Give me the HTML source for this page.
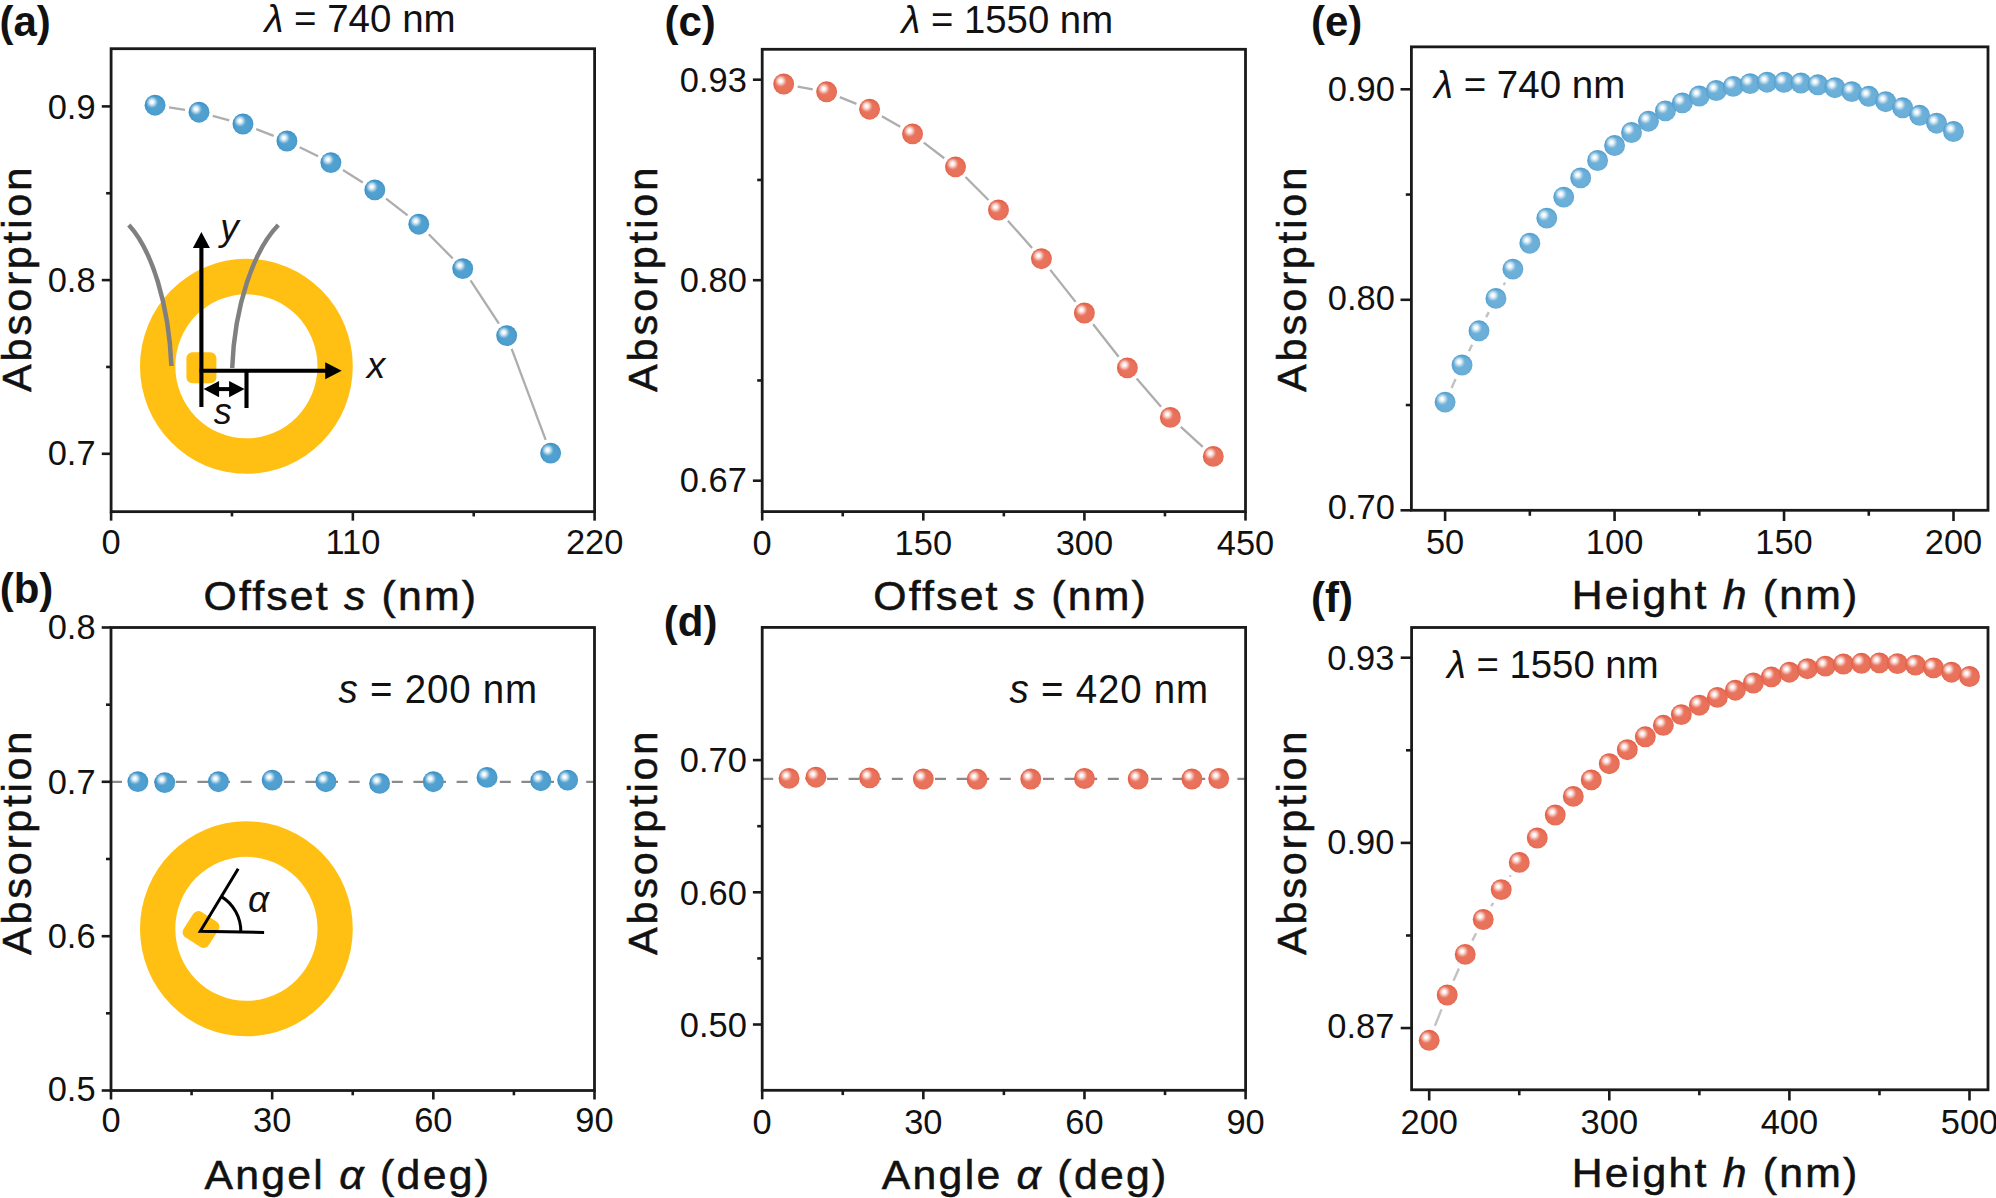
<!DOCTYPE html>
<html lang="en"><head><meta charset="utf-8"><title>Absorption figure</title>
<style>html,body{margin:0;padding:0;background:#fff;}svg{display:block;}</style></head>
<body>
<svg width="1996" height="1198" viewBox="0 0 1996 1198" font-family="'Liberation Sans', sans-serif" fill="#111">
<defs>
<radialGradient id="gb" cx="0.54" cy="0.56" r="0.54"><stop offset="0" stop-color="#53a2d1"/><stop offset="0.72" stop-color="#4d9ecf"/><stop offset="1" stop-color="#3a90c5"/></radialGradient>
<radialGradient id="gl" cx="0.54" cy="0.56" r="0.54"><stop offset="0" stop-color="#6fb1d9"/><stop offset="0.72" stop-color="#6aaed8"/><stop offset="1" stop-color="#509fcf"/></radialGradient>
<radialGradient id="gr" cx="0.54" cy="0.56" r="0.54"><stop offset="0" stop-color="#e9755f"/><stop offset="0.72" stop-color="#e87059"/><stop offset="1" stop-color="#e25f47"/></radialGradient>
<radialGradient id="hl" cx="0.5" cy="0.5" r="0.5"><stop offset="0" stop-color="#fff" stop-opacity="1"/><stop offset="0.22" stop-color="#fff" stop-opacity="0.95"/><stop offset="0.55" stop-color="#fff" stop-opacity="0.55"/><stop offset="0.8" stop-color="#fff" stop-opacity="0.18"/><stop offset="1" stop-color="#fff" stop-opacity="0"/></radialGradient>
</defs>
<rect width="1996" height="1198" fill="#fff"/>
<path d="M140.00,366.30 a106.4,107.5 0 1 0 212.80,0 a106.4,107.5 0 1 0 -212.80,0 z M175.30,366.30 a71.1,72.0 0 1 0 142.20,0 a71.1,72.0 0 1 0 -142.20,0 z " fill="#ffc013" fill-rule="evenodd"/>
<rect x="186.4" y="352.3" width="30" height="31" rx="6" fill="#ffc013"/>
<path d="M128.8,225 C152,250 169,305 171.4,366" fill="none" stroke="#808080" stroke-width="4.5"/>
<path d="M278.3,225 C254,250 234.5,305 232.2,368" fill="none" stroke="#808080" stroke-width="4.5"/>
<path d="M201.4,407 V246 M199.2,370.8 H326 M246.5,370.8 V408" fill="none" stroke="#000" stroke-width="4.1"/>
<path d="M201.4,232 l8.5,16 h-17 z M341.7,370.8 l-16.5,8.5 v-17 z" fill="#000"/>
<path d="M214,389.1 H234" stroke="#000" stroke-width="4"/>
<path d="M203.6,389.1 l15.5,-8.2 v16.4 z M244.6,389.1 l-15.5,-8.2 v16.4 z" fill="#000"/>
<text x="229.50" y="240.00" font-size="37" text-anchor="middle" font-weight="normal" font-style="italic">y</text>
<text x="376.00" y="378.30" font-size="37" text-anchor="middle" font-weight="normal" font-style="italic">x</text>
<text x="222.70" y="423.50" font-size="36" text-anchor="middle" font-weight="normal" font-style="italic">s</text>
<line x1="169.08" y1="107.43" x2="184.99" y2="109.97" stroke="#adadad" stroke-width="2.3"/>
<line x1="212.72" y1="115.88" x2="229.25" y2="120.32" stroke="#adadad" stroke-width="2.3"/>
<line x1="256.21" y1="129.12" x2="273.67" y2="135.88" stroke="#adadad" stroke-width="2.3"/>
<line x1="299.66" y1="147.26" x2="318.13" y2="156.34" stroke="#adadad" stroke-width="2.3"/>
<line x1="342.94" y1="170.09" x2="362.76" y2="182.41" stroke="#adadad" stroke-width="2.3"/>
<line x1="386.02" y1="198.64" x2="407.59" y2="215.46" stroke="#adadad" stroke-width="2.3"/>
<line x1="428.77" y1="234.29" x2="452.75" y2="258.51" stroke="#adadad" stroke-width="2.3"/>
<line x1="470.53" y1="280.47" x2="498.90" y2="323.73" stroke="#adadad" stroke-width="2.3"/>
<line x1="511.67" y1="348.90" x2="545.67" y2="439.80" stroke="#adadad" stroke-width="2.3"/>
<circle cx="155.05" cy="105.20" r="10.45" fill="url(#gb)"/>
<circle cx="152.05" cy="102.10" r="6.3" fill="url(#hl)"/>
<circle cx="199.01" cy="112.20" r="10.45" fill="url(#gb)"/>
<circle cx="196.01" cy="109.10" r="6.3" fill="url(#hl)"/>
<circle cx="242.96" cy="124.00" r="10.45" fill="url(#gb)"/>
<circle cx="239.96" cy="120.90" r="6.3" fill="url(#hl)"/>
<circle cx="286.92" cy="141.00" r="10.45" fill="url(#gb)"/>
<circle cx="283.92" cy="137.90" r="6.3" fill="url(#hl)"/>
<circle cx="330.87" cy="162.60" r="10.45" fill="url(#gb)"/>
<circle cx="327.87" cy="159.50" r="6.3" fill="url(#hl)"/>
<circle cx="374.83" cy="189.90" r="10.45" fill="url(#gb)"/>
<circle cx="371.83" cy="186.80" r="6.3" fill="url(#hl)"/>
<circle cx="418.78" cy="224.20" r="10.45" fill="url(#gb)"/>
<circle cx="415.78" cy="221.10" r="6.3" fill="url(#hl)"/>
<circle cx="462.74" cy="268.60" r="10.45" fill="url(#gb)"/>
<circle cx="459.74" cy="265.50" r="6.3" fill="url(#hl)"/>
<circle cx="506.69" cy="335.60" r="10.45" fill="url(#gb)"/>
<circle cx="503.69" cy="332.50" r="6.3" fill="url(#hl)"/>
<circle cx="550.65" cy="453.10" r="10.45" fill="url(#gb)"/>
<circle cx="547.65" cy="450.00" r="6.3" fill="url(#hl)"/>
<rect x="111.1" y="48.7" width="483.50" height="462.95" fill="none" stroke="#1a1a1a" stroke-width="2.8"/>
<line x1="101.80" y1="106.40" x2="111.1" y2="106.40" stroke="#1a1a1a" stroke-width="2.6"/>
<line x1="101.80" y1="280.10" x2="111.1" y2="280.10" stroke="#1a1a1a" stroke-width="2.6"/>
<line x1="101.80" y1="453.80" x2="111.1" y2="453.80" stroke="#1a1a1a" stroke-width="2.6"/>
<line x1="106.10" y1="193.25" x2="111.1" y2="193.25" stroke="#1a1a1a" stroke-width="2.6"/>
<line x1="106.10" y1="366.95" x2="111.1" y2="366.95" stroke="#1a1a1a" stroke-width="2.6"/>
<line x1="111.10" y1="511.65" x2="111.10" y2="520.65" stroke="#1a1a1a" stroke-width="2.6"/>
<line x1="352.85" y1="511.65" x2="352.85" y2="520.65" stroke="#1a1a1a" stroke-width="2.6"/>
<line x1="594.60" y1="511.65" x2="594.60" y2="520.65" stroke="#1a1a1a" stroke-width="2.6"/>
<line x1="231.97" y1="511.65" x2="231.97" y2="516.45" stroke="#1a1a1a" stroke-width="2.6"/>
<line x1="473.73" y1="511.65" x2="473.73" y2="516.45" stroke="#1a1a1a" stroke-width="2.6"/>
<text transform="translate(95.60,118.70) scale(0.957,1)" font-size="36.0" text-anchor="end" font-weight="normal" >0.9</text>
<text transform="translate(95.60,291.90) scale(0.957,1)" font-size="36.0" text-anchor="end" font-weight="normal" >0.8</text>
<text transform="translate(95.60,465.00) scale(0.957,1)" font-size="36.0" text-anchor="end" font-weight="normal" >0.7</text>
<text transform="translate(111.10,553.80) scale(0.957,1)" font-size="36.0" text-anchor="middle" font-weight="normal" >0</text>
<text transform="translate(352.85,553.80) scale(0.957,1)" font-size="36.0" text-anchor="middle" font-weight="normal" >110</text>
<text transform="translate(594.60,553.80) scale(0.957,1)" font-size="36.0" text-anchor="middle" font-weight="normal" >220</text>
<text x="360.00" y="32.40" font-size="38.5" text-anchor="middle" font-weight="normal" ><tspan font-style="italic">λ</tspan> = 740 nm</text>
<text transform="translate(339.70,610.00) scale(1.03,1)" font-size="41.5" text-anchor="middle" font-weight="normal" textLength="264.56" lengthAdjust="spacing" stroke="#111" stroke-width="0.55">Offset <tspan font-style="italic">s</tspan> (nm)</text>
<text transform="translate(31.20,279.80) rotate(-90)" font-size="41.5" text-anchor="middle" textLength="224.5" lengthAdjust="spacing" stroke="#111" stroke-width="0.55">Absorption</text>
<text x="-0.50" y="36.00" font-size="42" text-anchor="start" font-weight="bold" >(a)</text>
<path d="M140.00,928.80 a106.4,107.5 0 1 0 212.80,0 a106.4,107.5 0 1 0 -212.80,0 z M175.30,928.80 a71.1,72.0 0 1 0 142.20,0 a71.1,72.0 0 1 0 -142.20,0 z " fill="#ffc013" fill-rule="evenodd"/>
<rect x="-15" y="-15" width="30" height="30" rx="6" fill="#ffc013" transform="translate(201,929.5) rotate(-57)"/>
<path d="M238.2,868.8 L200.3,931.2 L264.1,932.5" fill="none" stroke="#000" stroke-width="3" stroke-linejoin="miter"/>
<path d="M221.4,896.6 A40.5,40.5 0 0 1 240.8,932" fill="none" stroke="#000" stroke-width="3"/>
<text x="258.50" y="911.50" font-size="37" text-anchor="middle" font-weight="normal" font-style="italic">α</text>
<line x1="111.0" y1="781.8" x2="594.5" y2="781.8" stroke="#8a8a8a" stroke-width="2.3" stroke-dasharray="11 10.6"/>
<circle cx="137.86" cy="781.60" r="10.45" fill="url(#gb)"/>
<circle cx="134.86" cy="778.50" r="6.3" fill="url(#hl)"/>
<circle cx="164.72" cy="782.60" r="10.45" fill="url(#gb)"/>
<circle cx="161.72" cy="779.50" r="6.3" fill="url(#hl)"/>
<circle cx="218.44" cy="781.70" r="10.45" fill="url(#gb)"/>
<circle cx="215.44" cy="778.60" r="6.3" fill="url(#hl)"/>
<circle cx="272.17" cy="780.10" r="10.45" fill="url(#gb)"/>
<circle cx="269.17" cy="777.00" r="6.3" fill="url(#hl)"/>
<circle cx="325.89" cy="781.70" r="10.45" fill="url(#gb)"/>
<circle cx="322.89" cy="778.60" r="6.3" fill="url(#hl)"/>
<circle cx="379.61" cy="783.40" r="10.45" fill="url(#gb)"/>
<circle cx="376.61" cy="780.30" r="6.3" fill="url(#hl)"/>
<circle cx="433.33" cy="781.70" r="10.45" fill="url(#gb)"/>
<circle cx="430.33" cy="778.60" r="6.3" fill="url(#hl)"/>
<circle cx="487.06" cy="777.40" r="10.45" fill="url(#gb)"/>
<circle cx="484.06" cy="774.30" r="6.3" fill="url(#hl)"/>
<circle cx="540.78" cy="780.70" r="10.45" fill="url(#gb)"/>
<circle cx="537.78" cy="777.60" r="6.3" fill="url(#hl)"/>
<circle cx="567.64" cy="780.10" r="10.45" fill="url(#gb)"/>
<circle cx="564.64" cy="777.00" r="6.3" fill="url(#hl)"/>
<rect x="111.0" y="627.5" width="483.50" height="463.00" fill="none" stroke="#1a1a1a" stroke-width="2.8"/>
<line x1="101.70" y1="627.50" x2="111.0" y2="627.50" stroke="#1a1a1a" stroke-width="2.6"/>
<line x1="101.70" y1="781.80" x2="111.0" y2="781.80" stroke="#1a1a1a" stroke-width="2.6"/>
<line x1="101.70" y1="936.20" x2="111.0" y2="936.20" stroke="#1a1a1a" stroke-width="2.6"/>
<line x1="101.70" y1="1090.50" x2="111.0" y2="1090.50" stroke="#1a1a1a" stroke-width="2.6"/>
<line x1="106.00" y1="704.70" x2="111.0" y2="704.70" stroke="#1a1a1a" stroke-width="2.6"/>
<line x1="106.00" y1="859.00" x2="111.0" y2="859.00" stroke="#1a1a1a" stroke-width="2.6"/>
<line x1="106.00" y1="1013.30" x2="111.0" y2="1013.30" stroke="#1a1a1a" stroke-width="2.6"/>
<line x1="111.00" y1="1090.5" x2="111.00" y2="1099.50" stroke="#1a1a1a" stroke-width="2.6"/>
<line x1="272.17" y1="1090.5" x2="272.17" y2="1099.50" stroke="#1a1a1a" stroke-width="2.6"/>
<line x1="433.33" y1="1090.5" x2="433.33" y2="1099.50" stroke="#1a1a1a" stroke-width="2.6"/>
<line x1="594.50" y1="1090.5" x2="594.50" y2="1099.50" stroke="#1a1a1a" stroke-width="2.6"/>
<line x1="191.58" y1="1090.5" x2="191.58" y2="1095.30" stroke="#1a1a1a" stroke-width="2.6"/>
<line x1="352.75" y1="1090.5" x2="352.75" y2="1095.30" stroke="#1a1a1a" stroke-width="2.6"/>
<line x1="513.92" y1="1090.5" x2="513.92" y2="1095.30" stroke="#1a1a1a" stroke-width="2.6"/>
<text transform="translate(95.60,638.60) scale(0.957,1)" font-size="36.0" text-anchor="end" font-weight="normal" >0.8</text>
<text transform="translate(95.60,793.50) scale(0.957,1)" font-size="36.0" text-anchor="end" font-weight="normal" >0.7</text>
<text transform="translate(95.60,947.50) scale(0.957,1)" font-size="36.0" text-anchor="end" font-weight="normal" >0.6</text>
<text transform="translate(95.60,1101.00) scale(0.957,1)" font-size="36.0" text-anchor="end" font-weight="normal" >0.5</text>
<text transform="translate(111.00,1132.30) scale(0.957,1)" font-size="36.0" text-anchor="middle" font-weight="normal" >0</text>
<text transform="translate(272.17,1132.30) scale(0.957,1)" font-size="36.0" text-anchor="middle" font-weight="normal" >30</text>
<text transform="translate(433.33,1132.30) scale(0.957,1)" font-size="36.0" text-anchor="middle" font-weight="normal" >60</text>
<text transform="translate(594.50,1132.30) scale(0.957,1)" font-size="36.0" text-anchor="middle" font-weight="normal" >90</text>
<text transform="translate(437.80,702.90) scale(0.955,1)" font-size="40.3" text-anchor="middle" font-weight="normal" textLength="207.85" lengthAdjust="spacing" ><tspan font-style="italic">s</tspan> = 200 nm</text>
<text transform="translate(346.70,1188.60) scale(1.03,1)" font-size="41.5" text-anchor="middle" font-weight="normal" textLength="276.21" lengthAdjust="spacing" stroke="#111" stroke-width="0.55">Angel <tspan font-style="italic">α</tspan> (deg)</text>
<text transform="translate(31.20,843.30) rotate(-90)" font-size="41.5" text-anchor="middle" textLength="223.5" lengthAdjust="spacing" stroke="#111" stroke-width="0.55">Absorption</text>
<text x="-0.30" y="603.40" font-size="42" text-anchor="start" font-weight="bold" >(b)</text>
<line x1="797.65" y1="86.54" x2="812.67" y2="89.26" stroke="#adadad" stroke-width="2.3"/>
<line x1="839.80" y1="97.13" x2="856.44" y2="103.87" stroke="#adadad" stroke-width="2.3"/>
<line x1="881.91" y1="116.28" x2="900.25" y2="126.82" stroke="#adadad" stroke-width="2.3"/>
<line x1="923.82" y1="142.55" x2="944.26" y2="158.25" stroke="#adadad" stroke-width="2.3"/>
<line x1="965.54" y1="176.96" x2="988.46" y2="199.94" stroke="#adadad" stroke-width="2.3"/>
<line x1="1007.87" y1="220.65" x2="1032.05" y2="248.05" stroke="#adadad" stroke-width="2.3"/>
<line x1="1050.25" y1="269.84" x2="1075.59" y2="301.86" stroke="#adadad" stroke-width="2.3"/>
<line x1="1093.15" y1="324.18" x2="1118.61" y2="356.72" stroke="#adadad" stroke-width="2.3"/>
<line x1="1136.67" y1="378.62" x2="1161.01" y2="406.68" stroke="#adadad" stroke-width="2.3"/>
<line x1="1180.83" y1="426.94" x2="1202.77" y2="446.86" stroke="#adadad" stroke-width="2.3"/>
<circle cx="783.68" cy="84.00" r="10.45" fill="url(#gr)"/>
<circle cx="780.68" cy="80.90" r="6.3" fill="url(#hl)"/>
<circle cx="826.64" cy="91.80" r="10.45" fill="url(#gr)"/>
<circle cx="823.64" cy="88.70" r="6.3" fill="url(#hl)"/>
<circle cx="869.60" cy="109.20" r="10.45" fill="url(#gr)"/>
<circle cx="866.60" cy="106.10" r="6.3" fill="url(#hl)"/>
<circle cx="912.56" cy="133.90" r="10.45" fill="url(#gr)"/>
<circle cx="909.56" cy="130.80" r="6.3" fill="url(#hl)"/>
<circle cx="955.52" cy="166.90" r="10.45" fill="url(#gr)"/>
<circle cx="952.52" cy="163.80" r="6.3" fill="url(#hl)"/>
<circle cx="998.48" cy="210.00" r="10.45" fill="url(#gr)"/>
<circle cx="995.48" cy="206.90" r="6.3" fill="url(#hl)"/>
<circle cx="1041.44" cy="258.70" r="10.45" fill="url(#gr)"/>
<circle cx="1038.44" cy="255.60" r="6.3" fill="url(#hl)"/>
<circle cx="1084.40" cy="313.00" r="10.45" fill="url(#gr)"/>
<circle cx="1081.40" cy="309.90" r="6.3" fill="url(#hl)"/>
<circle cx="1127.36" cy="367.90" r="10.45" fill="url(#gr)"/>
<circle cx="1124.36" cy="364.80" r="6.3" fill="url(#hl)"/>
<circle cx="1170.32" cy="417.40" r="10.45" fill="url(#gr)"/>
<circle cx="1167.32" cy="414.30" r="6.3" fill="url(#hl)"/>
<circle cx="1213.28" cy="456.40" r="10.45" fill="url(#gr)"/>
<circle cx="1210.28" cy="453.30" r="6.3" fill="url(#hl)"/>
<rect x="762.2" y="49.3" width="483.30" height="462.30" fill="none" stroke="#1a1a1a" stroke-width="2.8"/>
<line x1="752.90" y1="79.70" x2="762.2" y2="79.70" stroke="#1a1a1a" stroke-width="2.6"/>
<line x1="752.90" y1="280.20" x2="762.2" y2="280.20" stroke="#1a1a1a" stroke-width="2.6"/>
<line x1="752.90" y1="480.70" x2="762.2" y2="480.70" stroke="#1a1a1a" stroke-width="2.6"/>
<line x1="757.20" y1="179.95" x2="762.2" y2="179.95" stroke="#1a1a1a" stroke-width="2.6"/>
<line x1="757.20" y1="380.45" x2="762.2" y2="380.45" stroke="#1a1a1a" stroke-width="2.6"/>
<line x1="762.20" y1="511.6" x2="762.20" y2="520.60" stroke="#1a1a1a" stroke-width="2.6"/>
<line x1="923.30" y1="511.6" x2="923.30" y2="520.60" stroke="#1a1a1a" stroke-width="2.6"/>
<line x1="1084.40" y1="511.6" x2="1084.40" y2="520.60" stroke="#1a1a1a" stroke-width="2.6"/>
<line x1="1245.50" y1="511.6" x2="1245.50" y2="520.60" stroke="#1a1a1a" stroke-width="2.6"/>
<line x1="842.75" y1="511.6" x2="842.75" y2="516.40" stroke="#1a1a1a" stroke-width="2.6"/>
<line x1="1003.85" y1="511.6" x2="1003.85" y2="516.40" stroke="#1a1a1a" stroke-width="2.6"/>
<line x1="1164.95" y1="511.6" x2="1164.95" y2="516.40" stroke="#1a1a1a" stroke-width="2.6"/>
<text transform="translate(746.80,92.40) scale(0.957,1)" font-size="36.0" text-anchor="end" font-weight="normal" >0.93</text>
<text transform="translate(746.80,292.30) scale(0.957,1)" font-size="36.0" text-anchor="end" font-weight="normal" >0.80</text>
<text transform="translate(746.80,492.20) scale(0.957,1)" font-size="36.0" text-anchor="end" font-weight="normal" >0.67</text>
<text transform="translate(762.20,554.70) scale(0.957,1)" font-size="36.0" text-anchor="middle" font-weight="normal" >0</text>
<text transform="translate(923.30,554.70) scale(0.957,1)" font-size="36.0" text-anchor="middle" font-weight="normal" >150</text>
<text transform="translate(1084.40,554.70) scale(0.957,1)" font-size="36.0" text-anchor="middle" font-weight="normal" >300</text>
<text transform="translate(1245.50,554.70) scale(0.957,1)" font-size="36.0" text-anchor="middle" font-weight="normal" >450</text>
<text x="1007.30" y="33.40" font-size="38.3" text-anchor="middle" font-weight="normal" ><tspan font-style="italic">λ</tspan> = 1550 nm</text>
<text transform="translate(1009.50,609.70) scale(1.03,1)" font-size="41.5" text-anchor="middle" font-weight="normal" textLength="264.56" lengthAdjust="spacing" stroke="#111" stroke-width="0.55">Offset <tspan font-style="italic">s</tspan> (nm)</text>
<text transform="translate(656.80,279.80) rotate(-90)" font-size="41.5" text-anchor="middle" textLength="224.5" lengthAdjust="spacing" stroke="#111" stroke-width="0.55">Absorption</text>
<text x="664.50" y="36.00" font-size="42" text-anchor="start" font-weight="bold" >(c)</text>
<line x1="762.2" y1="778.8" x2="1245.6" y2="778.8" stroke="#8a8a8a" stroke-width="2.3" stroke-dasharray="11 10.6"/>
<circle cx="789.06" cy="778.40" r="10.45" fill="url(#gr)"/>
<circle cx="786.06" cy="775.30" r="6.3" fill="url(#hl)"/>
<circle cx="815.91" cy="777.20" r="10.45" fill="url(#gr)"/>
<circle cx="812.91" cy="774.10" r="6.3" fill="url(#hl)"/>
<circle cx="869.62" cy="777.90" r="10.45" fill="url(#gr)"/>
<circle cx="866.62" cy="774.80" r="6.3" fill="url(#hl)"/>
<circle cx="923.33" cy="779.00" r="10.45" fill="url(#gr)"/>
<circle cx="920.33" cy="775.90" r="6.3" fill="url(#hl)"/>
<circle cx="977.04" cy="779.30" r="10.45" fill="url(#gr)"/>
<circle cx="974.04" cy="776.20" r="6.3" fill="url(#hl)"/>
<circle cx="1030.76" cy="779.00" r="10.45" fill="url(#gr)"/>
<circle cx="1027.76" cy="775.90" r="6.3" fill="url(#hl)"/>
<circle cx="1084.47" cy="778.50" r="10.45" fill="url(#gr)"/>
<circle cx="1081.47" cy="775.40" r="6.3" fill="url(#hl)"/>
<circle cx="1138.18" cy="779.00" r="10.45" fill="url(#gr)"/>
<circle cx="1135.18" cy="775.90" r="6.3" fill="url(#hl)"/>
<circle cx="1191.89" cy="779.00" r="10.45" fill="url(#gr)"/>
<circle cx="1188.89" cy="775.90" r="6.3" fill="url(#hl)"/>
<circle cx="1218.74" cy="778.50" r="10.45" fill="url(#gr)"/>
<circle cx="1215.74" cy="775.40" r="6.3" fill="url(#hl)"/>
<rect x="762.2" y="627.4" width="483.40" height="462.90" fill="none" stroke="#1a1a1a" stroke-width="2.8"/>
<line x1="752.90" y1="760.10" x2="762.2" y2="760.10" stroke="#1a1a1a" stroke-width="2.6"/>
<line x1="752.90" y1="892.30" x2="762.2" y2="892.30" stroke="#1a1a1a" stroke-width="2.6"/>
<line x1="752.90" y1="1024.50" x2="762.2" y2="1024.50" stroke="#1a1a1a" stroke-width="2.6"/>
<line x1="757.20" y1="826.20" x2="762.2" y2="826.20" stroke="#1a1a1a" stroke-width="2.6"/>
<line x1="757.20" y1="958.40" x2="762.2" y2="958.40" stroke="#1a1a1a" stroke-width="2.6"/>
<line x1="762.20" y1="1090.3" x2="762.20" y2="1099.30" stroke="#1a1a1a" stroke-width="2.6"/>
<line x1="923.33" y1="1090.3" x2="923.33" y2="1099.30" stroke="#1a1a1a" stroke-width="2.6"/>
<line x1="1084.47" y1="1090.3" x2="1084.47" y2="1099.30" stroke="#1a1a1a" stroke-width="2.6"/>
<line x1="1245.60" y1="1090.3" x2="1245.60" y2="1099.30" stroke="#1a1a1a" stroke-width="2.6"/>
<line x1="842.77" y1="1090.3" x2="842.77" y2="1095.10" stroke="#1a1a1a" stroke-width="2.6"/>
<line x1="1003.90" y1="1090.3" x2="1003.90" y2="1095.10" stroke="#1a1a1a" stroke-width="2.6"/>
<line x1="1165.03" y1="1090.3" x2="1165.03" y2="1095.10" stroke="#1a1a1a" stroke-width="2.6"/>
<text transform="translate(746.80,771.80) scale(0.957,1)" font-size="36.0" text-anchor="end" font-weight="normal" >0.70</text>
<text transform="translate(746.80,904.50) scale(0.957,1)" font-size="36.0" text-anchor="end" font-weight="normal" >0.60</text>
<text transform="translate(746.80,1037.30) scale(0.957,1)" font-size="36.0" text-anchor="end" font-weight="normal" >0.50</text>
<text transform="translate(762.20,1133.50) scale(0.957,1)" font-size="36.0" text-anchor="middle" font-weight="normal" >0</text>
<text transform="translate(923.33,1133.50) scale(0.957,1)" font-size="36.0" text-anchor="middle" font-weight="normal" >30</text>
<text transform="translate(1084.47,1133.50) scale(0.957,1)" font-size="36.0" text-anchor="middle" font-weight="normal" >60</text>
<text transform="translate(1245.60,1133.50) scale(0.957,1)" font-size="36.0" text-anchor="middle" font-weight="normal" >90</text>
<text transform="translate(1108.80,702.90) scale(0.955,1)" font-size="40.3" text-anchor="middle" font-weight="normal" textLength="207.85" lengthAdjust="spacing" ><tspan font-style="italic">s</tspan> = 420 nm</text>
<text transform="translate(1024.00,1188.60) scale(1.03,1)" font-size="41.5" text-anchor="middle" font-weight="normal" textLength="276.21" lengthAdjust="spacing" stroke="#111" stroke-width="0.55">Angle <tspan font-style="italic">α</tspan> (deg)</text>
<text transform="translate(656.80,843.30) rotate(-90)" font-size="41.5" text-anchor="middle" textLength="223.5" lengthAdjust="spacing" stroke="#111" stroke-width="0.55">Absorption</text>
<text x="663.80" y="636.40" font-size="42" text-anchor="start" font-weight="bold" >(d)</text>
<line x1="1451.54" y1="388.00" x2="1455.61" y2="379.10" stroke="#c2c2c2" stroke-width="2.4"/>
<line x1="1468.93" y1="351.11" x2="1472.11" y2="344.69" stroke="#c2c2c2" stroke-width="2.4"/>
<line x1="1486.18" y1="317.07" x2="1488.76" y2="312.13" stroke="#c2c2c2" stroke-width="2.4"/>
<line x1="1503.70" y1="284.98" x2="1505.13" y2="282.52" stroke="#c2c2c2" stroke-width="2.4"/>
<circle cx="1445.10" cy="402.10" r="10.45" fill="url(#gl)"/>
<circle cx="1442.10" cy="399.00" r="6.3" fill="url(#hl)"/>
<circle cx="1462.05" cy="365.00" r="10.45" fill="url(#gl)"/>
<circle cx="1459.05" cy="361.90" r="6.3" fill="url(#hl)"/>
<circle cx="1478.99" cy="330.80" r="10.45" fill="url(#gl)"/>
<circle cx="1475.99" cy="327.70" r="6.3" fill="url(#hl)"/>
<circle cx="1495.94" cy="298.40" r="10.45" fill="url(#gl)"/>
<circle cx="1492.94" cy="295.30" r="6.3" fill="url(#hl)"/>
<circle cx="1512.89" cy="269.10" r="10.45" fill="url(#gl)"/>
<circle cx="1509.89" cy="266.00" r="6.3" fill="url(#hl)"/>
<circle cx="1529.83" cy="243.20" r="10.45" fill="url(#gl)"/>
<circle cx="1526.83" cy="240.10" r="6.3" fill="url(#hl)"/>
<circle cx="1546.78" cy="218.10" r="10.45" fill="url(#gl)"/>
<circle cx="1543.78" cy="215.00" r="6.3" fill="url(#hl)"/>
<circle cx="1563.73" cy="197.10" r="10.45" fill="url(#gl)"/>
<circle cx="1560.73" cy="194.00" r="6.3" fill="url(#hl)"/>
<circle cx="1580.67" cy="177.90" r="10.45" fill="url(#gl)"/>
<circle cx="1577.67" cy="174.80" r="6.3" fill="url(#hl)"/>
<circle cx="1597.62" cy="160.50" r="10.45" fill="url(#gl)"/>
<circle cx="1594.62" cy="157.40" r="6.3" fill="url(#hl)"/>
<circle cx="1614.57" cy="145.50" r="10.45" fill="url(#gl)"/>
<circle cx="1611.57" cy="142.40" r="6.3" fill="url(#hl)"/>
<circle cx="1631.51" cy="132.50" r="10.45" fill="url(#gl)"/>
<circle cx="1628.51" cy="129.40" r="6.3" fill="url(#hl)"/>
<circle cx="1648.46" cy="121.20" r="10.45" fill="url(#gl)"/>
<circle cx="1645.46" cy="118.10" r="6.3" fill="url(#hl)"/>
<circle cx="1665.41" cy="110.90" r="10.45" fill="url(#gl)"/>
<circle cx="1662.41" cy="107.80" r="6.3" fill="url(#hl)"/>
<circle cx="1682.35" cy="102.90" r="10.45" fill="url(#gl)"/>
<circle cx="1679.35" cy="99.80" r="6.3" fill="url(#hl)"/>
<circle cx="1699.30" cy="96.00" r="10.45" fill="url(#gl)"/>
<circle cx="1696.30" cy="92.90" r="6.3" fill="url(#hl)"/>
<circle cx="1716.25" cy="90.50" r="10.45" fill="url(#gl)"/>
<circle cx="1713.25" cy="87.40" r="6.3" fill="url(#hl)"/>
<circle cx="1733.19" cy="86.40" r="10.45" fill="url(#gl)"/>
<circle cx="1730.19" cy="83.30" r="6.3" fill="url(#hl)"/>
<circle cx="1750.14" cy="83.60" r="10.45" fill="url(#gl)"/>
<circle cx="1747.14" cy="80.50" r="6.3" fill="url(#hl)"/>
<circle cx="1767.09" cy="82.20" r="10.45" fill="url(#gl)"/>
<circle cx="1764.09" cy="79.10" r="6.3" fill="url(#hl)"/>
<circle cx="1784.03" cy="82.30" r="10.45" fill="url(#gl)"/>
<circle cx="1781.03" cy="79.20" r="6.3" fill="url(#hl)"/>
<circle cx="1800.98" cy="83.00" r="10.45" fill="url(#gl)"/>
<circle cx="1797.98" cy="79.90" r="6.3" fill="url(#hl)"/>
<circle cx="1817.93" cy="84.80" r="10.45" fill="url(#gl)"/>
<circle cx="1814.93" cy="81.70" r="6.3" fill="url(#hl)"/>
<circle cx="1834.87" cy="87.70" r="10.45" fill="url(#gl)"/>
<circle cx="1831.87" cy="84.60" r="6.3" fill="url(#hl)"/>
<circle cx="1851.82" cy="91.60" r="10.45" fill="url(#gl)"/>
<circle cx="1848.82" cy="88.50" r="6.3" fill="url(#hl)"/>
<circle cx="1868.77" cy="96.30" r="10.45" fill="url(#gl)"/>
<circle cx="1865.77" cy="93.20" r="6.3" fill="url(#hl)"/>
<circle cx="1885.71" cy="101.70" r="10.45" fill="url(#gl)"/>
<circle cx="1882.71" cy="98.60" r="6.3" fill="url(#hl)"/>
<circle cx="1902.66" cy="107.80" r="10.45" fill="url(#gl)"/>
<circle cx="1899.66" cy="104.70" r="6.3" fill="url(#hl)"/>
<circle cx="1919.61" cy="115.30" r="10.45" fill="url(#gl)"/>
<circle cx="1916.61" cy="112.20" r="6.3" fill="url(#hl)"/>
<circle cx="1936.55" cy="123.20" r="10.45" fill="url(#gl)"/>
<circle cx="1933.55" cy="120.10" r="6.3" fill="url(#hl)"/>
<circle cx="1953.50" cy="131.50" r="10.45" fill="url(#gl)"/>
<circle cx="1950.50" cy="128.40" r="6.3" fill="url(#hl)"/>
<rect x="1411.4" y="46.85" width="576.60" height="463.45" fill="none" stroke="#1a1a1a" stroke-width="2.8"/>
<line x1="1400.50" y1="89.30" x2="1411.4" y2="89.30" stroke="#1a1a1a" stroke-width="2.6"/>
<line x1="1400.50" y1="299.80" x2="1411.4" y2="299.80" stroke="#1a1a1a" stroke-width="2.6"/>
<line x1="1400.50" y1="510.30" x2="1411.4" y2="510.30" stroke="#1a1a1a" stroke-width="2.6"/>
<line x1="1405.80" y1="194.55" x2="1411.4" y2="194.55" stroke="#1a1a1a" stroke-width="2.6"/>
<line x1="1405.80" y1="405.05" x2="1411.4" y2="405.05" stroke="#1a1a1a" stroke-width="2.6"/>
<line x1="1445.10" y1="510.3" x2="1445.10" y2="521.00" stroke="#1a1a1a" stroke-width="2.6"/>
<line x1="1614.57" y1="510.3" x2="1614.57" y2="521.00" stroke="#1a1a1a" stroke-width="2.6"/>
<line x1="1784.03" y1="510.3" x2="1784.03" y2="521.00" stroke="#1a1a1a" stroke-width="2.6"/>
<line x1="1953.50" y1="510.3" x2="1953.50" y2="521.00" stroke="#1a1a1a" stroke-width="2.6"/>
<line x1="1529.83" y1="510.3" x2="1529.83" y2="515.80" stroke="#1a1a1a" stroke-width="2.6"/>
<line x1="1699.30" y1="510.3" x2="1699.30" y2="515.80" stroke="#1a1a1a" stroke-width="2.6"/>
<line x1="1868.77" y1="510.3" x2="1868.77" y2="515.80" stroke="#1a1a1a" stroke-width="2.6"/>
<text transform="translate(1394.80,101.00) scale(0.957,1)" font-size="36.0" text-anchor="end" font-weight="normal" >0.90</text>
<text transform="translate(1394.80,310.20) scale(0.957,1)" font-size="36.0" text-anchor="end" font-weight="normal" >0.80</text>
<text transform="translate(1394.80,519.40) scale(0.957,1)" font-size="36.0" text-anchor="end" font-weight="normal" >0.70</text>
<text transform="translate(1445.10,553.50) scale(0.957,1)" font-size="36.0" text-anchor="middle" font-weight="normal" >50</text>
<text transform="translate(1614.57,553.50) scale(0.957,1)" font-size="36.0" text-anchor="middle" font-weight="normal" >100</text>
<text transform="translate(1784.03,553.50) scale(0.957,1)" font-size="36.0" text-anchor="middle" font-weight="normal" >150</text>
<text transform="translate(1953.50,553.50) scale(0.957,1)" font-size="36.0" text-anchor="middle" font-weight="normal" >200</text>
<text x="1434.00" y="97.60" font-size="38.5" text-anchor="start" font-weight="normal" ><tspan font-style="italic">λ</tspan> = 740 nm</text>
<text transform="translate(1714.50,609.10) scale(1.03,1)" font-size="41.5" text-anchor="middle" font-weight="normal" textLength="277.18" lengthAdjust="spacing" stroke="#111" stroke-width="0.55">Height <tspan font-style="italic">h</tspan> (nm)</text>
<text transform="translate(1306.40,279.80) rotate(-90)" font-size="41.5" text-anchor="middle" textLength="224.5" lengthAdjust="spacing" stroke="#111" stroke-width="0.55">Absorption</text>
<text x="1311.00" y="35.80" font-size="42" text-anchor="start" font-weight="bold" >(e)</text>
<line x1="1434.93" y1="1025.90" x2="1441.48" y2="1009.40" stroke="#c2c2c2" stroke-width="2.4"/>
<line x1="1453.50" y1="980.83" x2="1458.93" y2="968.57" stroke="#c2c2c2" stroke-width="2.4"/>
<line x1="1472.33" y1="940.63" x2="1476.12" y2="933.27" stroke="#c2c2c2" stroke-width="2.4"/>
<line x1="1491.23" y1="906.22" x2="1493.24" y2="902.88" stroke="#c2c2c2" stroke-width="2.4"/>
<line x1="1509.80" y1="876.68" x2="1510.69" y2="875.32" stroke="#c2c2c2" stroke-width="2.4"/>
<circle cx="1429.20" cy="1040.30" r="10.45" fill="url(#gr)"/>
<circle cx="1426.20" cy="1037.20" r="6.3" fill="url(#hl)"/>
<circle cx="1447.21" cy="995.00" r="10.45" fill="url(#gr)"/>
<circle cx="1444.21" cy="991.90" r="6.3" fill="url(#hl)"/>
<circle cx="1465.22" cy="954.40" r="10.45" fill="url(#gr)"/>
<circle cx="1462.22" cy="951.30" r="6.3" fill="url(#hl)"/>
<circle cx="1483.23" cy="919.50" r="10.45" fill="url(#gr)"/>
<circle cx="1480.23" cy="916.40" r="6.3" fill="url(#hl)"/>
<circle cx="1501.24" cy="889.60" r="10.45" fill="url(#gr)"/>
<circle cx="1498.24" cy="886.50" r="6.3" fill="url(#hl)"/>
<circle cx="1519.25" cy="862.40" r="10.45" fill="url(#gr)"/>
<circle cx="1516.25" cy="859.30" r="6.3" fill="url(#hl)"/>
<circle cx="1537.26" cy="838.00" r="10.45" fill="url(#gr)"/>
<circle cx="1534.26" cy="834.90" r="6.3" fill="url(#hl)"/>
<circle cx="1555.27" cy="815.00" r="10.45" fill="url(#gr)"/>
<circle cx="1552.27" cy="811.90" r="6.3" fill="url(#hl)"/>
<circle cx="1573.28" cy="796.40" r="10.45" fill="url(#gr)"/>
<circle cx="1570.28" cy="793.30" r="6.3" fill="url(#hl)"/>
<circle cx="1591.29" cy="779.90" r="10.45" fill="url(#gr)"/>
<circle cx="1588.29" cy="776.80" r="6.3" fill="url(#hl)"/>
<circle cx="1609.30" cy="763.70" r="10.45" fill="url(#gr)"/>
<circle cx="1606.30" cy="760.60" r="6.3" fill="url(#hl)"/>
<circle cx="1627.31" cy="749.70" r="10.45" fill="url(#gr)"/>
<circle cx="1624.31" cy="746.60" r="6.3" fill="url(#hl)"/>
<circle cx="1645.32" cy="736.80" r="10.45" fill="url(#gr)"/>
<circle cx="1642.32" cy="733.70" r="6.3" fill="url(#hl)"/>
<circle cx="1663.33" cy="725.30" r="10.45" fill="url(#gr)"/>
<circle cx="1660.33" cy="722.20" r="6.3" fill="url(#hl)"/>
<circle cx="1681.34" cy="714.60" r="10.45" fill="url(#gr)"/>
<circle cx="1678.34" cy="711.50" r="6.3" fill="url(#hl)"/>
<circle cx="1699.35" cy="705.20" r="10.45" fill="url(#gr)"/>
<circle cx="1696.35" cy="702.10" r="6.3" fill="url(#hl)"/>
<circle cx="1717.36" cy="697.40" r="10.45" fill="url(#gr)"/>
<circle cx="1714.36" cy="694.30" r="6.3" fill="url(#hl)"/>
<circle cx="1735.37" cy="690.20" r="10.45" fill="url(#gr)"/>
<circle cx="1732.37" cy="687.10" r="6.3" fill="url(#hl)"/>
<circle cx="1753.38" cy="683.00" r="10.45" fill="url(#gr)"/>
<circle cx="1750.38" cy="679.90" r="6.3" fill="url(#hl)"/>
<circle cx="1771.39" cy="676.90" r="10.45" fill="url(#gr)"/>
<circle cx="1768.39" cy="673.80" r="6.3" fill="url(#hl)"/>
<circle cx="1789.40" cy="672.20" r="10.45" fill="url(#gr)"/>
<circle cx="1786.40" cy="669.10" r="6.3" fill="url(#hl)"/>
<circle cx="1807.41" cy="668.70" r="10.45" fill="url(#gr)"/>
<circle cx="1804.41" cy="665.60" r="6.3" fill="url(#hl)"/>
<circle cx="1825.42" cy="666.10" r="10.45" fill="url(#gr)"/>
<circle cx="1822.42" cy="663.00" r="6.3" fill="url(#hl)"/>
<circle cx="1843.43" cy="664.00" r="10.45" fill="url(#gr)"/>
<circle cx="1840.43" cy="660.90" r="6.3" fill="url(#hl)"/>
<circle cx="1861.44" cy="663.30" r="10.45" fill="url(#gr)"/>
<circle cx="1858.44" cy="660.20" r="6.3" fill="url(#hl)"/>
<circle cx="1879.45" cy="662.90" r="10.45" fill="url(#gr)"/>
<circle cx="1876.45" cy="659.80" r="6.3" fill="url(#hl)"/>
<circle cx="1897.46" cy="663.60" r="10.45" fill="url(#gr)"/>
<circle cx="1894.46" cy="660.50" r="6.3" fill="url(#hl)"/>
<circle cx="1915.47" cy="665.10" r="10.45" fill="url(#gr)"/>
<circle cx="1912.47" cy="662.00" r="6.3" fill="url(#hl)"/>
<circle cx="1933.48" cy="667.90" r="10.45" fill="url(#gr)"/>
<circle cx="1930.48" cy="664.80" r="6.3" fill="url(#hl)"/>
<circle cx="1951.49" cy="672.20" r="10.45" fill="url(#gr)"/>
<circle cx="1948.49" cy="669.10" r="6.3" fill="url(#hl)"/>
<circle cx="1969.50" cy="676.50" r="10.45" fill="url(#gr)"/>
<circle cx="1966.50" cy="673.40" r="6.3" fill="url(#hl)"/>
<rect x="1411.6" y="627.5" width="576.40" height="462.30" fill="none" stroke="#1a1a1a" stroke-width="2.8"/>
<line x1="1400.70" y1="657.70" x2="1411.6" y2="657.70" stroke="#1a1a1a" stroke-width="2.6"/>
<line x1="1400.70" y1="842.90" x2="1411.6" y2="842.90" stroke="#1a1a1a" stroke-width="2.6"/>
<line x1="1400.70" y1="1028.05" x2="1411.6" y2="1028.05" stroke="#1a1a1a" stroke-width="2.6"/>
<line x1="1406.00" y1="750.30" x2="1411.6" y2="750.30" stroke="#1a1a1a" stroke-width="2.6"/>
<line x1="1406.00" y1="935.50" x2="1411.6" y2="935.50" stroke="#1a1a1a" stroke-width="2.6"/>
<line x1="1429.20" y1="1089.8" x2="1429.20" y2="1100.50" stroke="#1a1a1a" stroke-width="2.6"/>
<line x1="1609.30" y1="1089.8" x2="1609.30" y2="1100.50" stroke="#1a1a1a" stroke-width="2.6"/>
<line x1="1789.40" y1="1089.8" x2="1789.40" y2="1100.50" stroke="#1a1a1a" stroke-width="2.6"/>
<line x1="1969.50" y1="1089.8" x2="1969.50" y2="1100.50" stroke="#1a1a1a" stroke-width="2.6"/>
<line x1="1519.25" y1="1089.8" x2="1519.25" y2="1095.30" stroke="#1a1a1a" stroke-width="2.6"/>
<line x1="1699.35" y1="1089.8" x2="1699.35" y2="1095.30" stroke="#1a1a1a" stroke-width="2.6"/>
<line x1="1879.45" y1="1089.8" x2="1879.45" y2="1095.30" stroke="#1a1a1a" stroke-width="2.6"/>
<text transform="translate(1394.30,670.20) scale(0.957,1)" font-size="36.0" text-anchor="end" font-weight="normal" >0.93</text>
<text transform="translate(1394.30,854.00) scale(0.957,1)" font-size="36.0" text-anchor="end" font-weight="normal" >0.90</text>
<text transform="translate(1394.30,1037.70) scale(0.957,1)" font-size="36.0" text-anchor="end" font-weight="normal" >0.87</text>
<text transform="translate(1429.20,1133.90) scale(0.957,1)" font-size="36.0" text-anchor="middle" font-weight="normal" >200</text>
<text transform="translate(1609.30,1133.90) scale(0.957,1)" font-size="36.0" text-anchor="middle" font-weight="normal" >300</text>
<text transform="translate(1789.40,1133.90) scale(0.957,1)" font-size="36.0" text-anchor="middle" font-weight="normal" >400</text>
<text transform="translate(1969.50,1133.90) scale(0.957,1)" font-size="36.0" text-anchor="middle" font-weight="normal" >500</text>
<text x="1447.00" y="678.20" font-size="38.3" text-anchor="start" font-weight="normal" ><tspan font-style="italic">λ</tspan> = 1550 nm</text>
<text transform="translate(1714.50,1187.00) scale(1.03,1)" font-size="41.5" text-anchor="middle" font-weight="normal" textLength="277.18" lengthAdjust="spacing" stroke="#111" stroke-width="0.55">Height <tspan font-style="italic">h</tspan> (nm)</text>
<text transform="translate(1306.40,843.30) rotate(-90)" font-size="41.5" text-anchor="middle" textLength="223.5" lengthAdjust="spacing" stroke="#111" stroke-width="0.55">Absorption</text>
<text x="1311.00" y="611.50" font-size="42" text-anchor="start" font-weight="bold" >(f)</text>
</svg>
</body></html>
